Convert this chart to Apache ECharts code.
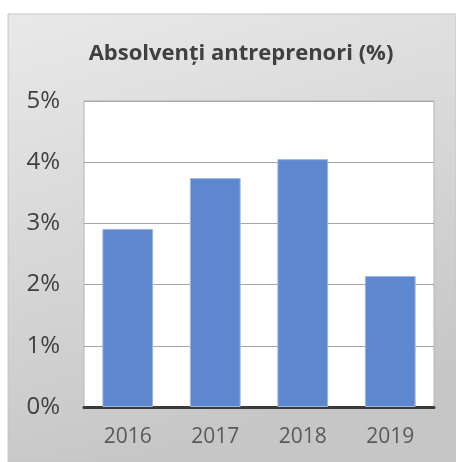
<!DOCTYPE html>
<html lang="ro">
<head>
    <meta charset="UTF-8">
    <title>Absolvenți antreprenori</title>
    <script src="https://cdn.jsdelivr.net/npm/echarts@6/dist/echarts.min.js"></script>
    <style>
        html, body { margin: 0; padding: 0; background: #fff; }
        #main { width: 456px; height: 462px; }
    </style>
</head>
<body>
    <div id="main"></div>
    <script>
        // date
        var years = ['2016', '2017', '2018', '2019'];
        var valori = [2.91, 3.74, 4.05, 2.14];
        var yTicks = [0, 1, 2, 3, 4, 5];

        var chart = echarts.init(document.getElementById('main'));
        chart.setOption({
            animation: false,
            graphic: [{
                type: 'rect',
                z: -10,
                shape: { x: 8, y: 14, width: 448, height: 448 },
                style: {
                    fill: new echarts.graphic.LinearGradient(0, 0, 0.3, 1, [
                        { offset: 0, color: '#e9e9e9' },
                        { offset: 1, color: '#c6c6c6' }
                    ]),
                    stroke: '#c4c4c4',
                    lineWidth: 1
                }
            }],
            title: {
                text: 'Absolvenți antreprenori (%)',
                left: 236,
                textAlign: 'center',
                top: 38,
                textStyle: {
                    fontFamily: 'Open Sans',
                    fontSize: 22,
                    fontWeight: 'bold',
                    color: '#404040'
                }
            },
            grid: {
                left: 84, right: 22, top: 101, bottom: 55,
                show: true,
                backgroundColor: '#fff',
                borderColor: '#b4b4b4',
                borderWidth: 1
            },
            xAxis: {
                type: 'category',
                data: years,
                axisTick: { show: false },
                axisLine: { lineStyle: { color: '#3a3a3a', width: 3 } },
                axisLabel: {
                    margin: 20,
                    fontFamily: 'Open Sans',
                    fontSize: 21,
                    color: '#595959'
                }
            },
            yAxis: {
                type: 'value',
                min: yTicks[0],
                max: yTicks[yTicks.length - 1],
                interval: 1,
                axisLine: { show: false },
                axisTick: { show: false },
                splitLine: { lineStyle: { color: '#a6a6a6', width: 1 } },
                axisLabel: {
                    formatter: '{value}%',
                    margin: 24,
                    fontFamily: 'Open Sans',
                    fontSize: 24,
                    color: '#404040'
                }
            },
            series: [{
                type: 'bar',
                data: valori,
                barWidth: '58%',
                itemStyle: {
                    color: '#5d87ce',
                    borderColor: '#9db5e3',
                    borderWidth: 1
                }
            }]
        });
    </script>
</body>
</html>
